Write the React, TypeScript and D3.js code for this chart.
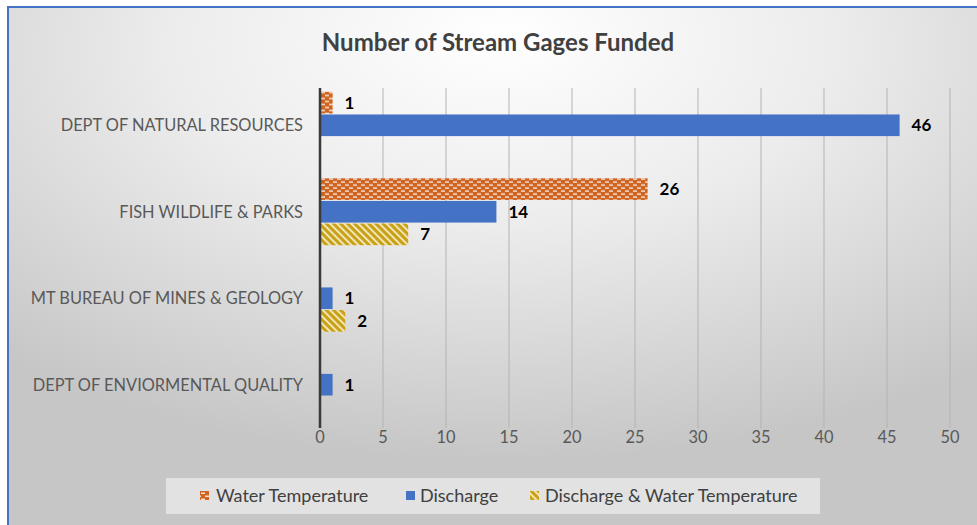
import React from "react";
import * as d3 from "d3";

// chart data
const categories = [
  "DEPT OF NATURAL RESOURCES",
  "FISH WILDLIFE & PARKS",
  "MT BUREAU OF MINES & GEOLOGY",
  "DEPT OF ENVIORMENTAL QUALITY",
];
const seriesNames = ["Water Temperature", "Discharge", "Discharge & Water Temperature"];
const waterTemperature = [1, 26, null, null];
const dischargeValues = [46, 14, 1, 1];
const dischargeAndTemp = [null, 7, 2, null];
const xTicks = [0, 5, 10, 15, 20, 25, 30, 35, 40, 45, 50];

const W = 977;
const H = 525;
const plot = { left: 320, right: 950, top: 82, bottom: 428 };
const fills = ["url(#brick)", "#4472c4", "url(#diag)"];
const font = "Lato, 'Open Sans', sans-serif";

const App = () => {
  const series = [waterTemperature, dischargeValues, dischargeAndTemp];

  // Scales
  const x = d3.scaleLinear().domain([0, 50]).range([plot.left, plot.right]);
  const y = d3.scaleBand().domain(categories).range([plot.top, plot.bottom]).paddingInner(0.215).paddingOuter(0.108);
  const ySub = d3.scaleBand().domain(seriesNames).range([0, y.bandwidth()]);

  // legend layout (marker x, text x)
  const legendItems = [
    { name: seriesNames[0], mx: 200, tx: 216 },
    { name: seriesNames[1], mx: 406, tx: 420 },
    { name: seriesNames[2], mx: 530, tx: 545 },
  ];

  return (
    <div style={{ position: "fixed", left: 0, top: 0 }}>
      <svg width={W} height={H} style={{ display: "block" }}>
        <defs>
          <radialGradient id="bg" cx="0.5" cy="0.1" r="0.75" fx="0.5" fy="0.05">
            <stop offset="0" stopColor="#ffffff" />
            <stop offset="0.45" stopColor="#ececec" />
            <stop offset="1" stopColor="#c6c6c6" />
          </radialGradient>
          <pattern id="brick" width="8" height="6" patternUnits="userSpaceOnUse">
            <rect width="8" height="6" fill="#cf6420" />
            <rect x="1" y="0.5" width="4" height="1.5" fill="#f6e2d4" />
            <rect x="5" y="3.5" width="4" height="1.5" fill="#f6e2d4" />
            <rect x="-3" y="3.5" width="4" height="1.5" fill="#f6e2d4" />
          </pattern>
          <pattern id="diag" width="5" height="5" patternUnits="userSpaceOnUse" patternTransform="rotate(-45)">
            <rect width="5" height="5" fill="#c9a116" />
            <rect x="0" y="0" width="1.8" height="5" fill="#f5ecc8" />
          </pattern>
        </defs>

        <rect x={0} y={0} width={W} height={H} fill="#ffffff" />
        <rect x={8} y={7} width={W + 10} height={H + 10} fill="url(#bg)" stroke="#4472c4" strokeWidth={2} />

        {/* Title */}
        <text x={498} y={51} textAnchor="middle" fontFamily={font} fontWeight="bold" fontSize={24} fill="#404040">
          Number of Stream Gages Funded
        </text>

        {/* Gridlines */}
        {xTicks.slice(1).map((t) => (
          <line key={t} x1={x(t)} x2={x(t)} y1={plot.top + 6} y2={plot.bottom} stroke="#b3b3b3" strokeWidth={1} />
        ))}

        {/* Bars */}
        {categories.map((c, i) => (
          <g key={c} transform={`translate(0, ${y(c)})`}>
            {series.map((s, j) => {
              const v = s[i];
              if (v === null) return null;
              const by = ySub(seriesNames[j]) as number;
              return (
                <g key={j}>
                  <rect x={x(0)} y={by + 0.5} width={x(v) - x(0)} height={ySub.bandwidth() - 1} fill={fills[j]} />
                  <text x={x(v) + 12} y={by + ySub.bandwidth() / 2 + 6} fontFamily={font} fontWeight="bold" fontSize={17} fill="#000">
                    {v}
                  </text>
                </g>
              );
            })}
          </g>
        ))}

        {/* Y axis line */}
        <line x1={x(0)} x2={x(0)} y1={plot.top + 6} y2={plot.bottom} stroke="#3a3a3a" strokeWidth={2.5} />

        {/* Category labels */}
        {categories.map((c) => (
          <text key={c} x={303} y={(y(c) as number) + y.bandwidth() / 2 + 6} textAnchor="end" fontFamily={font} fontSize={16.4} fill="#595959">
            {c}
          </text>
        ))}

        {/* X tick labels */}
        {xTicks.map((t) => (
          <text key={t} x={x(t)} y={443} textAnchor="middle" fontFamily={font} fontSize={16.4} fill="#595959">
            {t}
          </text>
        ))}

        {/* Legend */}
        <rect x={166} y={478} width={654} height={36} fill="#e2e2e2" />
        {legendItems.map((d, i) => (
          <g key={d.name}>
            <rect x={d.mx} y={491} width={9} height={9} fill={fills[i]} />
            <text x={d.tx} y={502} fontFamily={font} fontSize={18} fill="#404040">
              {d.name}
            </text>
          </g>
        ))}
      </svg>
    </div>
  );
};

export default App;
